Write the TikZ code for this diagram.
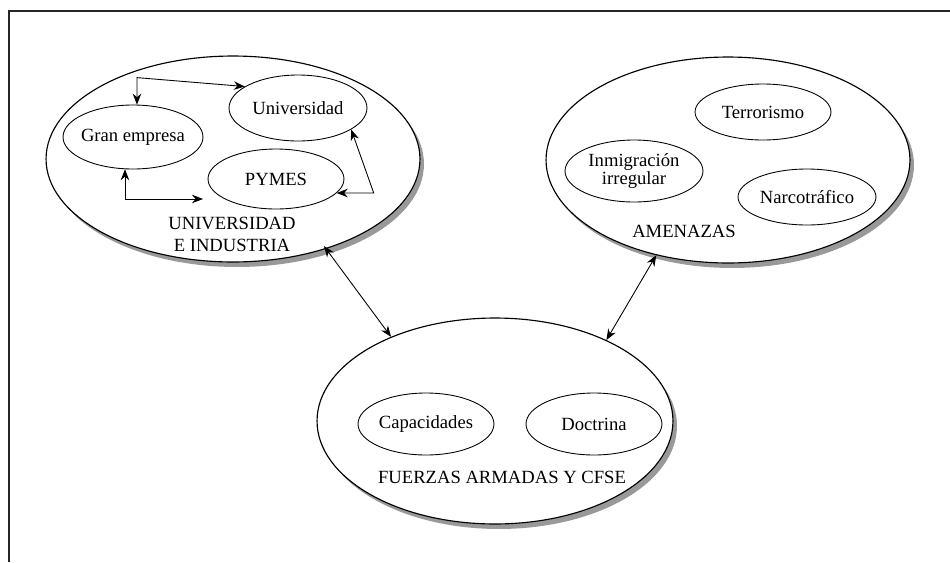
\documentclass[tikz,border=0pt]{standalone}
\usepackage{fontspec}
\setmainfont{Liberation Serif}
\usetikzlibrary{arrows.meta}
\usetikzlibrary{shapes.geometric}

\tikzset{
    zone/.style={ellipse, draw, line width=0.65pt, fill=white, inner sep=0pt},
    zoneshadow/.style={fill=black!40},
    item/.style={ellipse, draw, line width=0.5pt, inner xsep=-4pt, inner ysep=0pt,
        align=center, font=\fontsize{10.6}{10.5}\selectfont},
    caption/.style={align=center, font=\fontsize{10.6}{12.5}\selectfont},
    link/.style={{Stealth[length=2.2mm, width=1.7mm]}-{Stealth[length=2.2mm, width=1.7mm]},
        line width=0.5pt},
}

\begin{document}
\begin{tikzpicture}[x=0.02cm, y=-0.02cm]
    \useasboundingbox (0,0) rectangle (950,562);
    \draw[line width=0.05cm, black!85] (9,562) -- (9,11) -- (950,11);

    % shadows of the large groups
    \fill[zoneshadow] (237,164) ellipse [x radius=3.74cm, y radius=2.06cm];
    \fill[zoneshadow] (732,165) ellipse [x radius=3.64cm, y radius=2.06cm];
    \fill[zoneshadow] (499,426) ellipse [x radius=3.56cm, y radius=2.06cm];

    % large groups
    \node[zone, minimum width=7.48cm, minimum height=4.12cm] (ui) at (233,159) {};
    \node[zone, minimum width=7.28cm, minimum height=4.12cm] (am) at (728,160) {};
    \node[zone, minimum width=7.12cm, minimum height=4.12cm] (fa) at (495,421) {};

    \node[caption] (uicap) at (232,234) {UNIVERSIDAD\\E INDUSTRIA};
    \node[caption] (amcap) at (684,231) {AMENAZAS};
    \node[caption] (facap) at (502,477) {FUERZAS ARMADAS Y CFSE};

    % universidad e industria
    \node[item, minimum width=2.8cm, minimum height=1.28cm] (gran) at (133,137) {Gran empresa};
    \node[item, minimum width=2.76cm, minimum height=1.32cm] (univ) at (298,108) {Universidad};
    \node[item, minimum width=2.72cm, minimum height=1.2cm] (pymes) at (276,179) {PYMES};
    \coordinate (pyin) at (203,199);

    \draw[link] (gran.83) -- ++(0,-27) -- (univ.158);
    \draw[link] (gran.256) |- (pyin);
    \draw[link] (pymes.-13) -- ++(37,0) -- (univ.-22);

    % amenazas
    \node[item, minimum width=2.72cm, minimum height=1.12cm] (terr) at (763,112) {Terrorismo};
    \node[item, minimum width=2.76cm, minimum height=1.24cm] (inmi) at (634,171) {Inmigración\\irregular};
    \node[item, minimum width=2.76cm, minimum height=1.12cm] (narc) at (807,197) {Narcotráfico};

    % fuerzas armadas
    \node[item, minimum width=2.72cm, minimum height=1.24cm] (capa) at (426,424) {Capacidades};
    \node[item, minimum width=2.72cm, minimum height=1.24cm] (doct) at (594,424) {Doctrina};

    \draw[link, shorten <=-2pt] (ui.-44) -- (fa.141);
    \draw[link] (am.233) -- (fa.36);
  \end{tikzpicture}
\end{document}
